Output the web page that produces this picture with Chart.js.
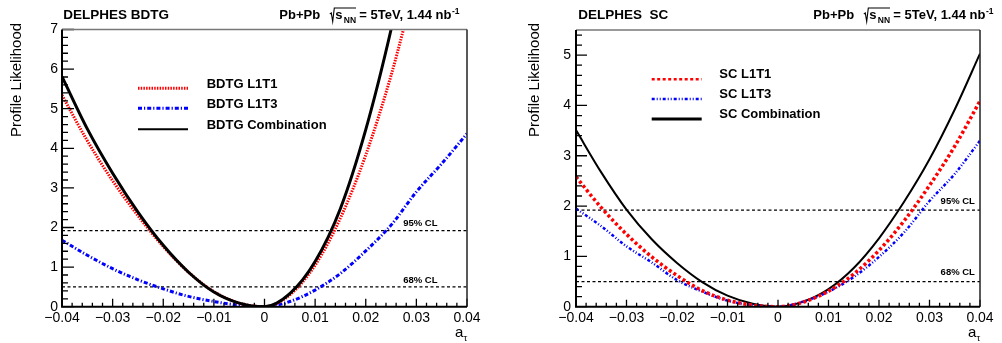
<!DOCTYPE html>
<html>
<head>
<meta charset="utf-8">
<script src="https://cdn.jsdelivr.net/npm/chart.js@4.4.0/dist/chart.umd.min.js"></script>
<style>
  html, body { margin: 0; padding: 0; background: #fff; overflow: hidden; }
  #wrap { position: relative; width: 1002px; height: 343px; }
  .box { position: absolute; top: 0; width: 501px; height: 343px; }
</style>
</head>
<body>
<div id="wrap">
  <div class="box" style="left:0"><canvas id="bdtgChart" width="501" height="343"></canvas></div>
  <div class="box" style="left:501px"><canvas id="scChart" width="501" height="343"></canvas></div>
</div>
<script>
// a_tau scan points
const aTau = [-0.04, -0.035, -0.03, -0.025, -0.02, -0.015, -0.01, -0.005, 0,
              0.005, 0.01, 0.015, 0.02, 0.025, 0.03, 0.035, 0.04];

// BDTG panel (values off the top of the frame are left out)
const bdtgL1T1 = [5.34, 4.19, 3.18, 2.30, 1.52, 0.87, 0.38, 0.09, 0.00,
                  0.30, 1.05, 2.24, 3.83, 5.84, 8.27, null, null];
const bdtgL1T3 = [1.68, 1.30, 0.96, 0.68, 0.45, 0.26, 0.13, 0.04, 0.00,
                  0.13, 0.42, 0.84, 1.41, 2.06, 2.90, 3.61, 4.37];
const bdtgComb = [5.81, 4.49, 3.37, 2.39, 1.55, 0.87, 0.37, 0.09, 0.00,
                  0.33, 1.14, 2.48, 4.47, 7.00, 10.0, null, null];

// SC panel
const scL1T1 = [2.58, 1.97, 1.44, 0.99, 0.62, 0.32, 0.13, 0.03, 0.00,
                0.09, 0.31, 0.65, 1.12, 1.71, 2.41, 3.19, 4.09];
const scL1T3 = [1.95, 1.60, 1.20, 0.88, 0.53, 0.30, 0.12, 0.03, 0.00,
                0.10, 0.30, 0.59, 0.99, 1.48, 2.10, 2.64, 3.30];
const scComb = [3.51, 2.67, 1.93, 1.34, 0.87, 0.49, 0.22, 0.06, 0.00,
                0.10, 0.35, 0.77, 1.36, 2.09, 2.93, 3.92, 5.03];

// confidence levels
const clLevels = [1.92, 0.5];
const clNames = ["95% CL", "68% CL"];

const xRange = [-0.04, 0.04];
const bdtgYMax = 7;
const scYMax = 5.5;

const FONT = "'Liberation Sans', Arial, Helvetica, sans-serif";

function pts(ys) {
  return aTau.map((x, i) => ({ x, y: ys[i] }));
}

function txt(ctx, s, x, y, font, align = "left", base = "alphabetic") {
  ctx.font = font;
  ctx.textAlign = align;
  ctx.textBaseline = base;
  ctx.fillStyle = "#000";
  ctx.fillText(s, x, y);
}

function energyLabel(ctx, x0, b) {
  const big = "bold 13px " + FONT;
  const small = "bold 8.5px " + FONT;
  txt(ctx, "Pb+Pb", x0, b, big);
  ctx.beginPath();
  ctx.lineWidth = 1.1;
  ctx.strokeStyle = "#000";
  ctx.moveTo(x0 + 50.5, b - 5);
  ctx.lineTo(x0 + 52, b - 6);
  ctx.lineTo(x0 + 53.4, b + 2.5);
  ctx.lineTo(x0 + 55, b - 11);
  ctx.lineTo(x0 + 76.7, b - 11);
  ctx.stroke();
  txt(ctx, "s", x0 + 56, b, big);
  txt(ctx, "NN", x0 + 64.5, b + 3.5, small);
  const main = "= 5TeV, 1.44 nb";
  txt(ctx, main, x0 + 80, b, big);
  ctx.font = big;
  const w = ctx.measureText(main).width;
  txt(ctx, "-1", x0 + 80 + w + 0.5, b - 5.5, small);
}

const rootStyle = {
  id: "rootStyle",
  afterDatasetsDraw(chart, args, o) {
    const { ctx, chartArea: a } = chart;
    const x = chart.scales.x, y = chart.scales.y;
    ctx.save();

    // CL labels
    clNames.forEach((name, i) => {
      const py = y.getPixelForValue(clLevels[i]) - o.clOffset;
      txt(ctx, name, x.getPixelForValue(o.clX), py, "bold 9.5px " + FONT, "left", "middle");
    });

    // inward ticks, ROOT style
    ctx.strokeStyle = "#000";
    ctx.lineWidth = 1.3;
    ctx.beginPath();
    for (let i = 0; i <= 40; i++) {
      const px = x.getPixelForValue(x.min + i * 0.002);
      const len = i % 5 === 0 ? o.xMajor : o.xMinor;
      ctx.moveTo(px, a.bottom);
      ctx.lineTo(px, a.bottom - len);
    }
    const ny = Math.floor(y.max / 0.2 + 1e-6);
    for (let j = 0; j <= ny; j++) {
      const py = y.getPixelForValue(j * 0.2);
      const len = j % 5 === 0 ? o.yMajor : o.yMinor;
      ctx.moveTo(a.left, py);
      ctx.lineTo(a.left + len, py);
    }
    ctx.stroke();

    // frame
    ctx.strokeStyle = "#777";
    ctx.lineWidth = 1.5;
    ctx.beginPath();
    ctx.moveTo(a.left, a.top);
    ctx.lineTo(a.right, a.top);
    ctx.stroke();
    ctx.strokeStyle = "#222";
    ctx.beginPath();
    ctx.moveTo(a.right, a.top);
    ctx.lineTo(a.right, a.bottom);
    ctx.stroke();
    ctx.strokeStyle = "#000";
    ctx.lineWidth = 2;
    ctx.beginPath();
    ctx.moveTo(a.left, a.top);
    ctx.lineTo(a.left, a.bottom);
    ctx.lineTo(a.right, a.bottom);
    ctx.stroke();
    ctx.restore();
  },
  afterDraw(chart, args, o) {
    const ctx = chart.ctx;
    ctx.save();

    // header texts
    txt(ctx, o.tag, o.tagX, 19, "bold 13.5px " + FONT);
    energyLabel(ctx, o.energyX, 19);

    // axis titles
    ctx.save();
    ctx.translate(o.yTitleX, o.yTitleY);
    ctx.rotate(-Math.PI / 2);
    txt(ctx, "Profile Likelihood", 0, 0, "15px " + FONT, "center", "middle");
    ctx.restore();
    txt(ctx, "a", o.xTitleX, 337, "15px " + FONT);
    txt(ctx, "\u03c4", o.xTitleX + 8.5, 340.5, "9.5px " + FONT);

    // legend
    const sets = chart.data.datasets.filter(d => d.inLegend);
    sets.forEach((d, i) => {
      const ly = o.legendY[i];
      ctx.save();
      ctx.strokeStyle = d.borderColor;
      ctx.lineWidth = d.legendWidth || d.borderWidth;
      ctx.setLineDash(d.borderDash || []);
      ctx.beginPath();
      ctx.moveTo(o.legendX0, ly);
      ctx.lineTo(o.legendX1, ly);
      ctx.stroke();
      ctx.restore();
      txt(ctx, d.label, o.legendTextX, ly + o.legendTextDy, "bold 13px " + FONT, "left", "middle");
    });
    ctx.restore();
  }
};

function clSets() {
  return clLevels.map(v => ({
    label: "CL " + v,
    data: [{ x: xRange[0], y: v }, { x: xRange[1], y: v }],
    borderColor: "#000",
    borderWidth: 1.2,
    borderDash: [3, 2.5],
    pointRadius: 0,
    order: 5
  }));
}

function makeChart(id, datasets, yMax, layoutPad, yWidth, tickPad, styleOpts) {
  const ctx = document.getElementById(id).getContext("2d");
  return new Chart(ctx, {
    type: "line",
    data: { datasets: datasets.concat(clSets()) },
    options: {
      responsive: false,
      animation: false,
      devicePixelRatio: 1,
      layout: { padding: layoutPad },
      elements: {
        point: { radius: 0 },
        line: { cubicInterpolationMode: "monotone", borderCapStyle: "butt" }
      },
      plugins: {
        legend: { display: false },
        tooltip: { enabled: false },
        rootStyle: styleOpts
      },
      scales: {
        x: {
          type: "linear",
          min: xRange[0],
          max: xRange[1],
          grid: { display: false, drawTicks: false },
          border: { display: false },
          afterFit: s => { s.height = 36.3; },
          afterBuildTicks: s => { s.ticks = s.ticks.filter(t => Math.abs(Math.round(t.value * 100) - t.value * 100) < 1e-6); },
          ticks: {
            stepSize: 0.01,
            padding: 3,
            maxRotation: 0,
            autoSkip: false,
            color: "#000",
            font: { family: FONT, size: 14 },
            callback: v => {
              const r = Math.round(v * 100);
              if (r === 0) return "0";
              return (r < 0 ? "\u2212" : "") + (Math.abs(r) / 100).toFixed(2);
            }
          }
        },
        y: {
          min: 0,
          max: yMax,
          grid: { display: false, drawTicks: false },
          border: { display: false },
          afterFit: s => { s.width = yWidth; },
          afterBuildTicks: s => { s.ticks = s.ticks.filter(t => Number.isInteger(t.value)); },
          ticks: {
            stepSize: 1,
            padding: tickPad,
            color: "#000",
            font: { family: FONT, size: 14 }
          }
        }
      }
    },
    plugins: [rootStyle]
  });
}

const bdtgSets = [
  { label: "BDTG L1T1", data: pts(bdtgL1T1), borderColor: "#ff0000", borderWidth: 3,
    borderDash: [1.5, 1.2], inLegend: true, order: 1 },
  { label: "BDTG L1T3", data: pts(bdtgL1T3), borderColor: "#0000ff", borderWidth: 3,
    borderDash: [4, 2, 1.2, 2], inLegend: true, order: 2 },
  { label: "BDTG Combination", data: pts(bdtgComb), borderColor: "#000", borderWidth: 3,
    legendWidth: 2, inLegend: true, order: 0 }
];

const scSets = [
  { label: "SC L1T1", data: pts(scL1T1), borderColor: "#ff0000", borderWidth: 3.5,
    legendWidth: 2.5, borderDash: [3, 2.5], inLegend: true, order: 0 },
  { label: "SC L1T3", data: pts(scL1T3), borderColor: "#0000ff", borderWidth: 2.5,
    borderDash: [3, 2, 1, 2, 1, 2], inLegend: true, order: 1 },
  { label: "SC Combination", data: pts(scComb), borderColor: "#000", borderWidth: 2,
    legendWidth: 3, inLegend: true, order: 2 }
];

makeChart("bdtgChart", bdtgSets, bdtgYMax,
  { left: 0, right: 34, top: 29.5, bottom: 0 }, 62, 4,
  { tag: "DELPHES BDTG", tagX: 63.3, energyX: 279.3,
    yTitleX: 17, yTitleY: 80, xTitleX: 455,
    legendX0: 138, legendX1: 188, legendY: [88.3, 108.3, 129.3], legendTextX: 206.7, legendTextDy: -4,
    clX: 0.0274, clOffset: 7,
    xMajor: 8, xMinor: 4, yMajor: 12, yMinor: 6 });

makeChart("scChart", scSets, scYMax,
  { left: 0, right: 22, top: 30, bottom: 0 }, 75, 5,
  { tag: "DELPHES  SC", tagX: 77.3, energyX: 312.3,
    yTitleX: 33.5, yTitleY: 80, xTitleX: 467,
    legendX0: 150.7, legendX1: 200.7, legendY: [79.3, 99, 119], legendTextX: 218.3, legendTextDy: -5,
    clX: 0.0322, clOffset: 9,
    xMajor: 7, xMinor: 4, yMajor: 11, yMinor: 6 });
</script>
</body>
</html>
